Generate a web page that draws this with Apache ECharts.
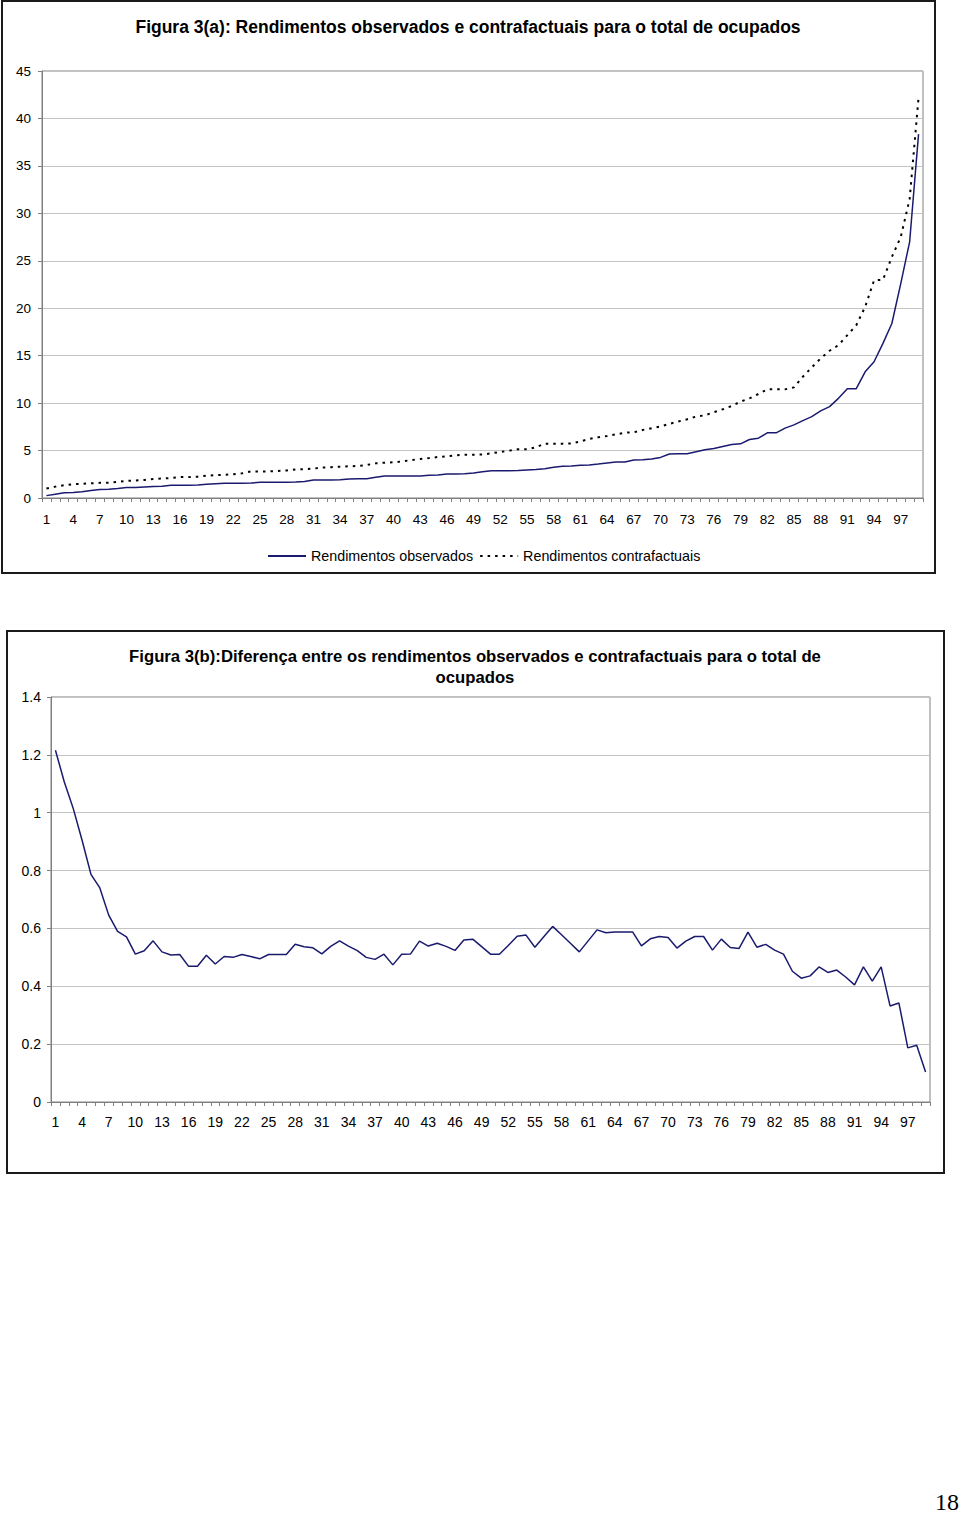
<!DOCTYPE html>
<html><head><meta charset="utf-8">
<script src="https://cdn.jsdelivr.net/npm/echarts@6/dist/echarts.min.js"></script>
<style>html,body{margin:0;padding:0;background:#fff}#c{width:960px;height:1514px}</style>
</head><body><div id="c"></div>
<script>
const categories = [1,2,3,4,5,6,7,8,9,10,11,12,13,14,15,16,17,18,19,20,21,22,23,24,25,26,27,28,29,30,31,32,33,34,35,36,37,38,39,40,41,42,43,44,45,46,47,48,49,50,51,52,53,54,55,56,57,58,59,60,61,62,63,64,65,66,67,68,69,70,71,72,73,74,75,76,77,78,79,80,81,82,83,84,85,86,87,88,89,90,91,92,93,94,95,96,97,98,99];

const observados = [0.25,0.4,0.55,0.58,0.66,0.8,0.9,0.92,1.0,1.1,
1.1,1.15,1.2,1.25,1.35,1.35,1.35,1.38,1.45,1.5,
1.55,1.55,1.56,1.58,1.65,1.65,1.66,1.66,1.68,1.75,
1.9,1.9,1.9,1.92,2.0,2.03,2.03,2.18,2.32,2.32,
2.32,2.32,2.33,2.39,2.42,2.53,2.53,2.55,2.63,2.77,
2.88,2.88,2.88,2.9,2.95,3.0,3.09,3.23,3.34,3.36,
3.44,3.48,3.58,3.69,3.79,3.8,4.0,4.04,4.11,4.28,
4.63,4.66,4.66,4.87,5.08,5.22,5.43,5.64,5.71,6.16,
6.3,6.87,6.87,7.36,7.71,8.16,8.58,9.18,9.63,10.5,
11.52,11.52,13.3,14.36,16.29,18.39,22.6,27.0,38.35];

const contrafactuais = [1.0,1.2,1.35,1.45,1.5,1.55,1.6,1.62,1.7,1.8,
1.85,1.9,2.0,2.05,2.1,2.2,2.2,2.25,2.35,2.4,
2.45,2.5,2.6,2.8,2.8,2.8,2.85,2.9,3.0,3.05,
3.1,3.2,3.25,3.3,3.35,3.37,3.48,3.65,3.72,3.76,
3.86,4.0,4.11,4.21,4.32,4.39,4.5,4.57,4.57,4.58,
4.71,4.85,4.99,5.13,5.13,5.34,5.73,5.73,5.73,5.74,
5.97,6.22,6.4,6.53,6.71,6.88,6.92,7.17,7.36,7.53,
7.81,8.06,8.3,8.58,8.72,9.04,9.35,9.7,10.16,10.5,
10.96,11.45,11.45,11.45,11.66,12.78,13.77,14.71,15.52,16.11,
17.16,18.21,20.14,22.94,23.0,25.4,27.5,31.5,42.2];

const diferenca = [1.216,1.106,1.015,0.905,0.787,0.74,0.646,0.59,0.571,0.511,
0.523,0.557,0.519,0.508,0.51,0.469,0.469,0.507,0.477,0.503,
0.50,0.51,0.503,0.495,0.51,0.51,0.51,0.545,0.537,0.533,
0.512,0.538,0.557,0.539,0.523,0.50,0.493,0.511,0.474,0.511,
0.512,0.556,0.539,0.549,0.538,0.524,0.56,0.563,0.537,0.511,
0.511,0.541,0.573,0.577,0.535,0.571,0.607,0.578,0.549,0.519,
0.557,0.595,0.585,0.588,0.588,0.588,0.54,0.564,0.572,0.569,
0.532,0.556,0.572,0.572,0.525,0.563,0.534,0.531,0.587,0.535,
0.545,0.525,0.511,0.452,0.428,0.436,0.467,0.448,0.456,0.432,
0.405,0.467,0.418,0.467,0.332,0.342,0.187,0.196,0.104];

const titleA = 'Figura 3(a): Rendimentos observados e contrafactuais para o total de ocupados';
const titleB1 = 'Figura 3(b):Diferença entre os rendimentos observados e contrafactuais para o total de';
const titleB2 = 'ocupados';
const seriesNames = ['Rendimentos observados', 'Rendimentos contrafactuais'];
const pageNumber = '18';

const sans = "'Liberation Sans', Arial, sans-serif";
const navy = '#1a1a6e';
const axisGray = '#808080';
const gridGray = '#c4c4c4';

function xAxisCfg(gridIndex, margin, fs) {
  return {
    type: 'category', gridIndex: gridIndex, data: categories, boundaryGap: true,
    axisLine: {show: true, lineStyle: {color: axisGray, width: 1}},
    axisTick: {show: true, interval: 0, length: 4, lineStyle: {color: axisGray}},
    axisLabel: {interval: 2, margin: margin, color: '#000', fontSize: fs, fontFamily: sans},
    splitLine: {show: false}
  };
}
function yAxisCfg(gridIndex, min, max, interval, fmt, margin, fs) {
  return {
    type: 'value', gridIndex: gridIndex, min: min, max: max, interval: interval,
    axisLine: {show: true, lineStyle: {color: axisGray, width: 1}},
    axisTick: {show: true, length: 4, lineStyle: {color: axisGray}},
    axisLabel: {margin: margin, color: '#000', fontSize: fs, fontFamily: sans, formatter: fmt},
    splitLine: {show: true, lineStyle: {color: gridGray, width: 1}}
  };
}

const chart = echarts.init(document.getElementById('c'), null, {renderer: 'svg'});
chart.setOption({
  animation: false,
  backgroundColor: '#fff',
  grid: [
    {left: 42, top: 71, width: 881, height: 427, show: true, borderColor: axisGray, borderWidth: 1, backgroundColor: 'transparent'},
    {left: 51, top: 697, width: 879, height: 405, show: true, borderColor: axisGray, borderWidth: 1, backgroundColor: 'transparent'}
  ],
  xAxis: [xAxisCfg(0, 14, 13.5), xAxisCfg(1, 13, 14)],
  yAxis: [
    yAxisCfg(0, 0, 45, 5, function (v) { return String(v); }, 11, 13.5),
    yAxisCfg(1, 0, 1.4, 0.2, function (v) { return String(Math.round(v * 10) / 10); }, 10, 14)
  ],
  legend: {
    data: seriesNames, left: 262, top: 544, itemWidth: 38, itemHeight: 14, itemGap: 6,
    itemStyle: {opacity: 0},
    textStyle: {color: '#000', fontSize: 14.3, fontFamily: sans},
    selectedMode: false
  },
  series: [
    {name: seriesNames[0], type: 'line', xAxisIndex: 0, yAxisIndex: 0, data: observados,
     symbol: 'none', lineStyle: {color: navy, width: 1.5}, itemStyle: {color: navy}},
    {name: seriesNames[1], type: 'line', xAxisIndex: 0, yAxisIndex: 0, data: contrafactuais,
     symbol: 'none', lineStyle: {color: '#000', width: 2, type: [2.5, 5]}, itemStyle: {color: '#000'}},
    {name: 'Diferença', type: 'line', xAxisIndex: 1, yAxisIndex: 1, data: diferenca,
     symbol: 'none', lineStyle: {color: navy, width: 1.5}, itemStyle: {color: navy}}
  ],
  graphic: [
    {type: 'rect', shape: {x: 2, y: 1, width: 933, height: 572}, style: {fill: 'none', stroke: '#1a1a1a', lineWidth: 2}, silent: true},
    {type: 'rect', shape: {x: 7, y: 631, width: 937, height: 542}, style: {fill: 'none', stroke: '#1a1a1a', lineWidth: 2}, silent: true},
    {type: 'text', x: 468, y: 27, style: {text: titleA, fill: '#000', font: "bold 17.5px " + sans, align: 'center', verticalAlign: 'middle'}},
    {type: 'text', x: 475, y: 656, style: {text: titleB1, fill: '#000', font: "bold 16.7px " + sans, align: 'center', verticalAlign: 'middle'}},
    {type: 'text', x: 475, y: 677, style: {text: titleB2, fill: '#000', font: "bold 16.7px " + sans, align: 'center', verticalAlign: 'middle'}},
    {type: 'text', x: 947, y: 1502, style: {text: pageNumber, fill: '#000', font: "24px 'Liberation Serif', 'Times New Roman', serif", align: 'center', verticalAlign: 'middle'}}
  ]
});
</script>
</body></html>
